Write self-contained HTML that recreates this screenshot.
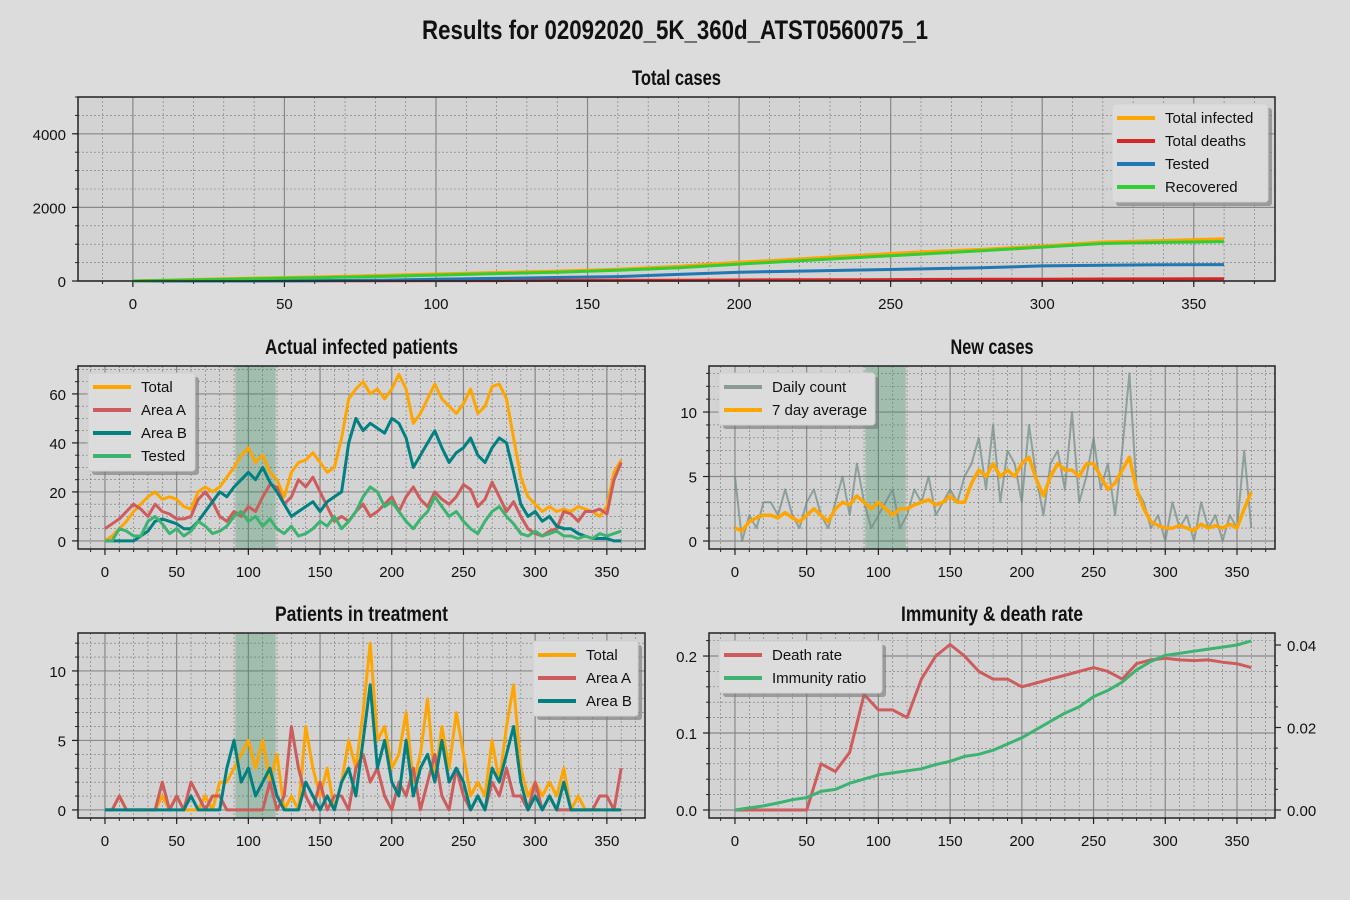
<!DOCTYPE html>
<html><head><meta charset="utf-8">
<style>
html,body{margin:0;padding:0;background:#dcdcdc;}
svg{display:block;font-family:"Liberation Sans",sans-serif;}
.title{font-family:"Liberation Sans Narrow","Liberation Sans",sans-serif;font-weight:bold;}
</style></head>
<body>
<svg id="fig" width="1350" height="900" viewBox="0 0 1350 900">
<rect width="1350" height="900" fill="#dcdcdc"/>
<text class="title" x="422" y="39" textLength="506" lengthAdjust="spacingAndGlyphs" font-size="27" fill="#111">Results for 02092020_5K_360d_ATST0560075_1</text>
</svg>
<script>
// ---- data ----
const days5 = []; for (let d = 0; d <= 360; d += 5) days5.push(d);
const days10 = []; for (let d = 0; d <= 360; d += 10) days10.push(d);
const days20 = [0,20,40,60,80,100,120,140,160,180,200,220,240,260,280,300,320,340,360];
const totalInfected = [0,40,80,110,150,190,230,270,320,400,510,600,700,790,860,950,1060,1100,1150];
const totalDeaths = [0,2,4,6,8,10,12,15,18,22,27,32,36,40,45,50,54,57,60];
const testedTotal = [0,0,0,5,20,45,70,95,120,180,240,270,300,330,360,410,430,440,445];
const recovered = [0,30,60,90,120,160,200,240,290,360,460,550,640,730,820,920,1020,1050,1070];

const actTotal = [0,2,5,8,12,15,18,20,17,18,17,14,13,20,22,20,22,26,30,35,38,32,35,28,25,18,28,32,33,36,32,28,30,42,58,62,65,60,62,58,62,68,62,48,52,58,64,58,55,52,56,62,52,55,63,64,58,42,26,18,15,12,14,12,13,12,14,13,12,10,14,28,33];
const actA = [5,7,9,12,15,13,10,15,12,11,9,9,10,17,20,16,10,8,12,10,14,12,18,23,22,15,18,25,22,26,20,14,8,10,8,12,15,10,12,15,18,12,18,22,17,14,20,17,15,18,23,21,14,17,24,18,12,16,10,5,3,2,4,5,12,11,8,12,12,13,11,25,32];
const actB = [0,0,0,0,0,2,4,8,9,8,7,5,5,8,12,16,20,18,22,25,28,25,30,24,20,15,10,12,14,16,12,16,18,20,40,50,45,48,46,44,50,48,42,30,35,40,45,38,32,36,38,42,35,32,38,42,40,28,15,10,12,8,10,6,5,5,3,2,1,1,1,0,0];
const actTested = [0,0,5,4,2,2,8,10,7,3,5,2,4,8,6,3,4,6,10,12,8,10,6,9,5,3,6,2,3,5,8,6,10,5,8,12,18,22,20,14,16,12,8,5,9,12,18,14,10,12,8,5,3,8,12,14,10,7,3,2,4,2,3,4,2,2,1,2,1,3,2,3,4];

const dailyCount = [5,0,2,1,3,3,2,4,2,1,3,4,2,1,3,5,2,6,3,1,2,3,4,1,2,4,3,5,2,3,4,3,5,6,8,4,9,3,7,6,3,9,5,2,6,7,4,10,3,5,8,4,6,2,7,13,4,3,1,2,0,3,1,2,0,3,1,2,0,2,1,7,1];
const weekAvg = [1,0.8,1.5,1.8,2,2,1.8,2.2,1.8,1.5,2,2.5,2,1.5,2.5,3,2.8,3.5,3,2.5,3,2.5,2,2.5,2.5,2.8,3,3.2,2.8,3,3.5,3,3,4.5,5.5,5,6,5,5.5,5,6,6.5,4.8,3.5,5,6,5.5,5.5,5,6,6,5,4,4.5,5.5,6.5,4,2.5,1.5,1.2,1,1,1.2,1,0.8,1.3,1,1.2,1,1.3,1,2.5,3.8];

const trTotal = [0,0,1,0,0,0,0,0,1,0,1,0,0,0,1,0,2,2,3,4,5,3,5,2,4,0,1,0,6,3,1,3,0,2,5,3,7,12,5,6,3,4,7,2,4,8,2,6,3,7,4,1,2,1,5,2,6,9,3,1,2,1,2,1,3,0,1,0,0,0,0,0,0];
const trA = [0,0,1,0,0,0,0,0,2,0,1,0,2,1,0,1,1,0,0,0,0,0,0,2,0,1,6,3,1,0,2,0,1,1,0,3,4,2,3,1,0,2,1,3,0,2,4,1,0,3,1,0,1,0,2,1,3,1,1,0,2,0,1,0,0,0,0,0,0,1,1,0,3];
const trB = [0,0,0,0,0,0,0,0,0,0,0,0,1,0,0,0,0,3,5,2,3,1,2,3,1,0,0,0,2,1,0,1,0,2,3,1,5,9,3,5,2,1,5,1,3,4,2,5,2,3,2,0,1,0,3,2,4,6,2,0,1,0,1,0,2,0,0,0,0,0,0,0,0];

const deathRate = [0,0,0,0,0,0,0.06,0.05,0.075,0.15,0.13,0.13,0.12,0.17,0.2,0.215,0.2,0.18,0.17,0.17,0.16,0.165,0.17,0.175,0.18,0.185,0.18,0.17,0.19,0.195,0.197,0.195,0.194,0.195,0.192,0.19,0.185];
const immunity = [0,0.0005,0.001,0.0017,0.0025,0.003,0.0045,0.005,0.0065,0.0075,0.0085,0.009,0.0095,0.01,0.011,0.0118,0.013,0.0135,0.0145,0.016,0.0175,0.0195,0.0215,0.0235,0.025,0.0275,0.029,0.031,0.034,0.036,0.0375,0.038,0.0385,0.039,0.0395,0.04,0.041];

const xTicks = [0,50,100,150,200,250,300,350];
const shadeRange = [91,119];

// ---- drawing ----
const NS = "http://www.w3.org/2000/svg";
const fig = document.getElementById('fig');
function mk(tag, attrs, parent){ const e=document.createElementNS(NS,tag); for(const k in attrs) e.setAttribute(k,attrs[k]); (parent||fig).appendChild(e); return e; }

function panel(cfg){
  const g = mk('g',{});
  
  
  const {L,T,R,B,xlim,ylim} = cfg;
  const sx = v => L + (v - xlim[0]) / (xlim[1]-xlim[0]) * (R-L);
  const sy = v => B - (v - ylim[0]) / (ylim[1]-ylim[0]) * (B-T);
  mk('rect',{x:L,y:T,width:R-L,height:B-T,fill:'#d3d3d3'},g);
  for(let v=Math.ceil(xlim[0]/10)*10; v<=xlim[1]; v+=10){ mk('line',{x1:sx(v),x2:sx(v),y1:T,y2:B,stroke:'#777','stroke-width':0.6,'stroke-dasharray':'2,2'},g); mk('line',{x1:sx(v),x2:sx(v),y1:B,y2:B+3,stroke:'#222','stroke-width':1},g); }
  for(let v=0; v<=ylim[1]+1e-9; v+=cfg.yminor){ mk('line',{x1:L,x2:R,y1:sy(v),y2:sy(v),stroke:'#777','stroke-width':0.6,'stroke-dasharray':'2,2'},g); mk('line',{x1:L-3,x2:L,y1:sy(v),y2:sy(v),stroke:'#222','stroke-width':1},g); }
  xTicks.forEach(v=>{ mk('line',{x1:sx(v),x2:sx(v),y1:T,y2:B,stroke:'#888','stroke-width':1.2},g); mk('line',{x1:sx(v),x2:sx(v),y1:B,y2:B+6,stroke:'#222','stroke-width':1.2},g);
    const t=mk('text',{x:sx(v),y:B+28,'text-anchor':'middle','font-size':15,fill:'#111'},g); t.textContent=v;
    
     });
  cfg.yticks.forEach((v,i)=>{ mk('line',{x1:L,x2:R,y1:sy(v),y2:sy(v),stroke:'#888','stroke-width':1.2},g); mk('line',{x1:L-6,x2:L,y1:sy(v),y2:sy(v),stroke:'#222','stroke-width':1.2},g);
    const t=mk('text',{x:L-12,y:sy(v)+6,'text-anchor':'end','font-size':15,fill:'#111'},g); t.textContent=cfg.ylabels[i];
    
     });
  if(cfg.shade){ const r=mk('rect',{x:sx(shadeRange[0]),y:T,width:sx(shadeRange[1])-sx(shadeRange[0]),height:B-T,fill:'#2e8b57','fill-opacity':0.3},g);
    
     }
  cfg.series.forEach(s=>{
    const ys = s.sy || sy;
    const pts = s.x.map((x,i)=>sx(x).toFixed(1)+','+ys(s.y[i]).toFixed(1)).join(' ');
    const p = mk('polyline',{points:pts,fill:'none',stroke:s.color,'stroke-width':s.w||3,'stroke-opacity':s.op||1,'stroke-linejoin':'round'},g);
    
    
  });
  mk('rect',{x:L,y:T,width:R-L,height:B-T,fill:'none',stroke:'#222','stroke-width':1.5},g);
  const tw = cfg.titleW;
  const tt = mk('text',{x:(L+R)/2 - tw/2,y:T-12,'font-size':21,fill:'#111',class:'title',textLength:tw,lengthAdjust:'spacingAndGlyphs'},g);
  tt.textContent = cfg.title;
  
  
  const lg = cfg.legend;
  const lgG = mk('g',{},g);
  
  
  mk('rect',{x:lg.x+4,y:lg.y+4,width:lg.w,height:lg.items.length*23+6,rx:3,fill:'#777','fill-opacity':0.6},lgG);
  mk('rect',{x:lg.x,y:lg.y,width:lg.w,height:lg.items.length*23+6,rx:3,fill:'#dcdcdc',stroke:'#cfcfcf'},lgG);
  lg.items.forEach((it,i)=>{
    const yy = lg.y+14+i*23;
    mk('line',{x1:lg.x+5,x2:lg.x+43,y1:yy,y2:yy,stroke:it[1],'stroke-width':4},lgG);
    const t=mk('text',{x:lg.x+53,y:yy+5,'font-size':15,fill:'#111'},lgG); t.textContent=it[0];
    
    
  });
  return {sx,sy,g};
}

panel({name:'total-cases-panel',title:'Total cases',titleW:89,L:78,T:97,R:1275,B:281,xlim:[-18.1,376.8],ylim:[0,5000],yticks:[0,2000,4000],ylabels:['0','2000','4000'],yminor:500,
  series:[{name:'total-infected-line',x:days20,y:totalInfected,color:'#ffa500'},{name:'total-deaths-line',x:days20,y:totalDeaths,color:'#d62728'},{name:'tested-line',x:days20,y:testedTotal,color:'#1f77b4'},{name:'recovered-line',x:days20,y:recovered,color:'#32cd32'}],
  legend:{x:1112,y:104,w:156,items:[['Total infected','#ffa500'],['Total deaths','#d62728'],['Tested','#1f77b4'],['Recovered','#32cd32']]}});

panel({name:'actual-infected-panel',title:'Actual infected patients',titleW:193,L:78,T:366,R:645,B:549,xlim:[-18.8,376.6],ylim:[-3.3,71.4],yticks:[0,20,40,60],ylabels:['0','20','40','60'],yminor:5,shade:true,
  series:[{name:'total-line',x:days5,y:actTotal,color:'#ffa500'},{name:'area-a-line',x:days5,y:actA,color:'#cd5c5c'},{name:'area-b-line',x:days5,y:actB,color:'#008080'},{name:'tested-line',x:days5,y:actTested,color:'#3cb371'}],
  legend:{x:88,y:373,w:107,items:[['Total','#ffa500'],['Area A','#cd5c5c'],['Area B','#008080'],['Tested','#3cb371']]}});

panel({name:'new-cases-panel',title:'New cases',titleW:83,L:709,T:366,R:1275,B:549,xlim:[-18.1,376.5],ylim:[-0.62,13.57],yticks:[0,5,10],ylabels:['0','5','10'],yminor:1,shade:true,
  series:[{name:'daily-count-line',x:days5,y:dailyCount,color:'#6f8a84',op:0.7,w:2},{name:'seven-day-average-line',x:days5,y:weekAvg,color:'#ffa500',w:3.5}],
  legend:{x:719,y:373,w:156,items:[['Daily count','#8a9a96'],['7 day average','#ffa500']]}});

panel({name:'patients-in-treatment-panel',title:'Patients in treatment',titleW:173,L:78,T:633,R:645,B:818,xlim:[-18.8,376.6],ylim:[-0.58,12.73],yticks:[0,5,10],ylabels:['0','5','10'],yminor:1,shade:true,
  series:[{name:'total-line',x:days5,y:trTotal,color:'#ffa500'},{name:'area-a-line',x:days5,y:trA,color:'#cd5c5c'},{name:'area-b-line',x:days5,y:trB,color:'#008080'}],
  legend:{x:533,y:641,w:105,items:[['Total','#ffa500'],['Area A','#cd5c5c'],['Area B','#008080']]}});

const B_L=709,B_T=633,B_R=1275,B_B=818;
const syR = v => 810 - v/0.04*(810-645);
panel({name:'immunity-death-rate-panel',title:'Immunity & death rate',titleW:182,L:B_L,T:B_T,R:B_R,B:B_B,xlim:[-18.1,376.5],ylim:[-0.0104,0.2299],yticks:[0,0.1,0.2],ylabels:['0.0','0.1','0.2'],yminor:0.02,
  series:[{name:'death-rate-line',x:days10,y:deathRate,color:'#cd5c5c'},{name:'immunity-ratio-line',x:days10,y:immunity,color:'#3cb371',sy:syR}],
  legend:{x:719,y:641,w:163,items:[['Death rate','#cd5c5c'],['Immunity ratio','#3cb371']]}});
[0,0.02,0.04].forEach(v=>{
  mk('line',{x1:B_R,x2:B_R+6,y1:syR(v),y2:syR(v),stroke:'#222','stroke-width':1.2});
  const t=mk('text',{x:B_R+12,y:syR(v)+6,'font-size':15,fill:'#111'}); t.textContent=v.toFixed(2);
  
  
});
for(let v=0; v<=0.0425; v+=0.005) mk('line',{x1:B_R,x2:B_R+3,y1:syR(v),y2:syR(v),stroke:'#222','stroke-width':1});
</script>
</body></html>
